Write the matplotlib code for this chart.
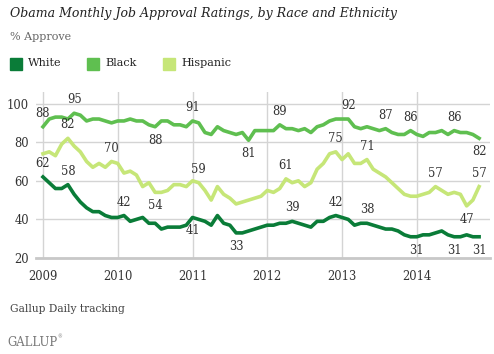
import matplotlib
matplotlib.use("Agg")
import matplotlib.pyplot as plt
from matplotlib.patches import Rectangle

# monthly, Jan 2009 .. Nov 2014
white = [62, 59, 56, 56, 58, 53, 49, 46, 44, 44, 42, 41,
         41, 42, 39, 40, 41, 38, 38, 35, 36, 36, 36, 37,
         41, 40, 39, 37, 42, 38, 37, 33, 33, 34, 35, 36,
         37, 37, 38, 38, 39, 38, 37, 36, 39, 39, 41, 42,
         41, 40, 37, 38, 38, 37, 36, 35, 35, 34, 32, 31,
         31, 32, 32, 33, 34, 32, 31, 31, 32, 31, 31]
black = [88, 92, 93, 93, 92, 95, 94, 91, 92, 92, 91, 90,
         91, 91, 92, 91, 91, 89, 88, 91, 91, 89, 89, 88,
         91, 90, 85, 84, 88, 86, 85, 84, 85, 81, 86, 86,
         86, 86, 89, 87, 87, 86, 87, 85, 88, 89, 91, 92,
         92, 92, 88, 87, 88, 87, 86, 87, 85, 84, 84, 86,
         84, 83, 85, 85, 86, 84, 86, 85, 85, 84, 82]
hispanic = [74, 75, 73, 79, 82, 78, 75, 70, 67, 69, 67, 70,
            69, 64, 65, 63, 57, 59, 54, 54, 55, 58, 58, 57,
            60, 59, 55, 50, 57, 53, 51, 48, 49, 50, 51, 52,
            55, 54, 56, 61, 59, 60, 57, 59, 66, 69, 74, 75,
            71, 74, 69, 69, 71, 66, 64, 62, 59, 56, 53, 52,
            52, 53, 54, 57, 55, 53, 54, 53, 47, 50, 57]
years = ["2009", "2010", "2011", "2012", "2013", "2014"]

# (month index, above?) for the labelled points
white_lbl = [(0, 1), (4, 1), (13, 1), (24, 0), (31, 0), (40, 1), (47, 1), (52, 1), (60, 0), (66, 0), (70, 0)]
black_lbl = [(0, 1), (5, 1), (18, 0), (24, 1), (33, 0), (38, 1), (49, 1), (55, 1), (59, 1), (66, 1), (70, 0)]
hisp_lbl = [(4, 1), (11, 1), (18, 0), (25, 1), (39, 1), (47, 1), (52, 1), (63, 1), (68, 0), (70, 1)]

c_white = "#0a7c38"
c_black = "#5fbf50"
c_hisp = "#c6e678"
serif = "DejaVu Serif"

W, H = 494, 354
fig = plt.figure(figsize=(W / 100, H / 100), dpi=100)
ax = fig.add_axes([36 / W, (H - 258) / H, (490 - 36) / W, (258 - 92) / H])

x = list(range(len(white)))
for vals, col in [(black, c_black), (hispanic, c_hisp), (white, c_white)]:
    ax.plot(x, vals, color=col, lw=2.6, solid_joinstyle="round", zorder=3)

for vals, lbls in [(white, white_lbl), (black, black_lbl), (hispanic, hisp_lbl)]:
    for i, up in lbls:
        ax.annotate(str(vals[i]), (x[i], vals[i]), xytext=(0, 5 if up else -5),
                    textcoords="offset points", ha="center",
                    va="bottom" if up else "top", fontsize=8.3,
                    family=serif, color="#333333", zorder=4)

ax.set_xlim(-1.12, 71.75)
ax.set_ylim(20, 106)
ax.set_xticks([12 * k for k in range(len(years))])
ax.set_xticklabels(years)
ax.set_yticks([20, 40, 60, 80, 100])
ax.grid(True, color="#d4d4d4", lw=1, zorder=0)
for s in ["top", "right", "left"]:
    ax.spines[s].set_visible(False)
ax.spines["bottom"].set_color("#c8c8c8")
ax.spines["bottom"].set_linewidth(2)
ax.tick_params(length=0, labelsize=8.3, labelcolor="#333333", pad=5)
ax.tick_params(axis="x", pad=9)
for t in ax.get_xticklabels() + ax.get_yticklabels():
    t.set_family(serif)

fig.text(10 / W, 1 - 14 / H, "Obama Monthly Job Approval Ratings, by Race and Ethnicity",
         family=serif, style="italic", fontsize=9.0, color="#222222", va="center")
fig.text(10 / W, 1 - 37 / H, "% Approve", family=serif, fontsize=8.0,
         color="#666666", va="center")

for px, name, col in [(10, "White", c_white), (87, "Black", c_black), (163, "Hispanic", c_hisp)]:
    fig.patches.append(Rectangle((px / W, 1 - 70 / H), 12 / W, 12 / H,
                                 transform=fig.transFigure, color=col))
    fig.text((px + 18) / W, 1 - 63.5 / H, name, family=serif, fontsize=8.1,
             color="#222222", va="center")

fig.text(10 / W, 1 - 309 / H, "Gallup Daily tracking", family=serif, fontsize=7.7,
         color="#444444", va="center")
fig.text(7 / W, 1 - 342 / H, "GALLUP", family=serif, fontsize=8.4, color="#777777",
         va="center")
fig.text(57 / W, 1 - 337 / H, "®", family=serif, fontsize=3.5, color="#777777",
         va="center")

fig.savefig("out.png", dpi=100)
